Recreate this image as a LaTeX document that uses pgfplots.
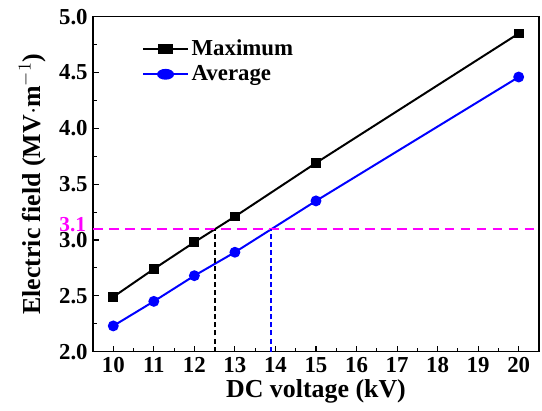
\documentclass[border=0pt]{standalone}
\usepackage{fontspec}
\setmainfont{Liberation Serif}
\usepackage{pgfplots}
\pgfplotsset{compat=1.18}
\definecolor{mag}{RGB}{255,0,255}
\definecolor{myblue}{RGB}{0,0,255}
\begin{document}
\begin{tikzpicture}
\begin{axis}[
  scale only axis,
  width=293pt, height=220pt,
  xmin=9.5, xmax=20.5, ymin=2.0, ymax=5.0,
  xtick={10,11,...,20},
  ytick={2.0,2.5,...,5.0},
  minor x tick num=1, minor y tick num=1,
  xtick pos=bottom, ytick pos=left,
  tick align=inside,
  major tick length=4pt, minor tick length=2.5pt,
  tick style={black, line width=0.7pt},
  axis line style={line width=0.8pt},
  /pgf/number format/assume math mode=true,
  /pgf/number format/fixed, /pgf/number format/fixed zerofill, /pgf/number format/precision=1,
  xticklabel style={font=\fontsize{15}{17}\selectfont\bfseries},
  xticklabel={\pgfmathprintnumber[fixed,precision=0]{\tick}},
  yticklabel style={font=\fontsize{15}{17}\selectfont\bfseries},
  extra y ticks={3.1},
  extra y tick labels={3.1},
  extra y tick style={major tick length=0pt, yticklabel style={text=mag, font=\fontsize{14}{16}\selectfont\bfseries, xshift=-1pt, yshift=3pt}},
  xlabel={\bfseries DC voltage (kV)},
  ylabel={\bfseries Electric field (MV$\cdot$m$^{-1}$)},
  label style={font=\fontsize{17}{19}\selectfont},
  xlabel style={yshift=2pt},
  ylabel style={yshift=2pt},
  legend style={at={(0.1,0.95)}, anchor=north west, draw=none, fill=none, font=\fontsize{15}{17}\selectfont\bfseries, row sep=1pt},
  legend cell align=left,
  legend image post style={xscale=1.7},
]
\addplot[black, line width=1.3pt, mark=square*, mark size=2.6pt] coordinates {
(10,2.49) (11,2.74) (12,2.98) (13,3.21) (15,3.69) (20,4.85)};
\addlegendentry{Maximum}
\addplot[myblue, line width=1.3pt, mark=*, mark size=2.9pt] coordinates {
(10,2.23) (11,2.45) (12,2.68) (13,2.89) (15,3.35) (20,4.46)};
\addlegendentry{Average}
\addplot[mag, line width=1.3pt, dash pattern=on 6.5pt off 4pt, forget plot] coordinates {(9.5,3.1) (20.5,3.1)};
\addplot[black, line width=1.3pt, dash pattern=on 3.3pt off 2pt, forget plot] coordinates {(12.5,2.0) (12.5,3.1)};
\addplot[myblue, line width=1.3pt, dash pattern=on 3.3pt off 2pt, forget plot] coordinates {(13.88,2.0) (13.88,3.1)};
\end{axis}
\path (current axis.north east) ++(2pt,11pt);
\path (current axis.outer west) ++(-9pt,0);
\path (current axis.south) ++(0,-39pt);
\end{tikzpicture}
\end{document}
